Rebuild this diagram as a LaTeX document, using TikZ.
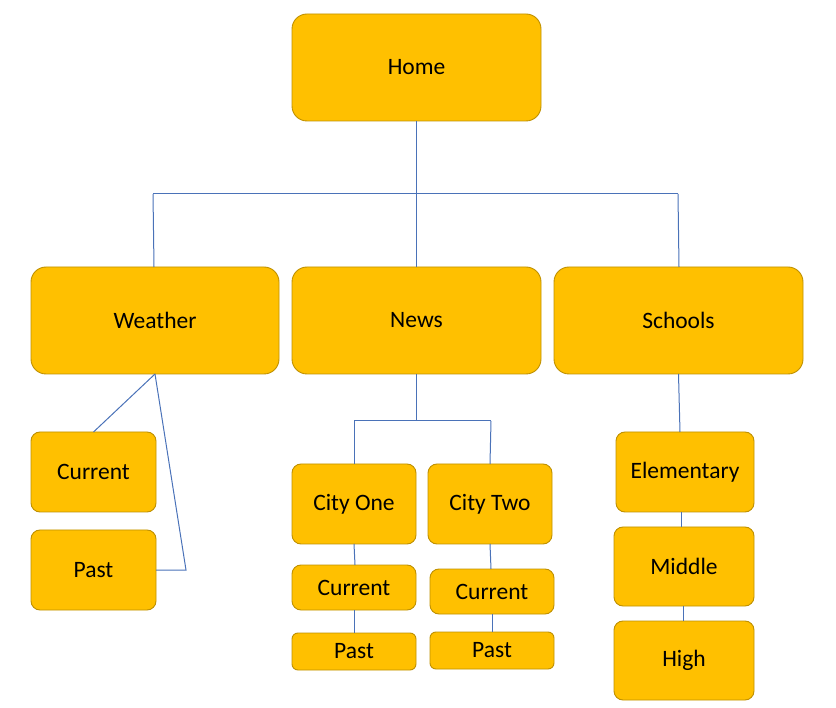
\documentclass[tikz,border=0pt]{standalone}
\usepackage{fontspec}
\setmainfont{Carlito}
\definecolor{boxfill}{HTML}{FFC000}
\definecolor{boxline}{HTML}{BF9000}
\definecolor{conn}{HTML}{4A72B8}
\begin{document}
\begin{tikzpicture}[x=1pt,y=-1pt,
  box/.style={draw=boxline, fill=boxfill, line width=0.9pt, rounded corners=15pt,
    inner sep=0pt, outer sep=0pt, font=\fontsize{23.5}{28}\selectfont, text=black},
  sbox/.style={box, rounded corners=9pt},
  link/.style={draw=conn, line width=1pt}]
\useasboundingbox (0,0) rectangle (836,708);
% level 0
\node[box, minimum width=249pt, minimum height=107pt] (home) at (416.5,67.5) {Home};
% level 1
\node[box, minimum width=248pt, minimum height=107pt] (weather) at (155,320.5) {Weather};
\node[box, minimum width=249pt, minimum height=107pt] (news) at (416.5,320.5) {News};
\node[box, minimum width=249pt, minimum height=107pt] (schools) at (678.5,320.5) {Schools};
% weather children
\node[sbox, minimum width=125pt, minimum height=80pt] (wcur) at (93.5,472) {Current};
\node[sbox, minimum width=125pt, minimum height=80pt] (wpast) at (93.5,570) {Past};
% news children
\node[sbox, minimum width=124pt, minimum height=80pt] (cone) at (354,504) {City One};
\node[sbox, minimum width=124pt, minimum height=80pt] (ctwo) at (490,504) {City Two};
\node[sbox, minimum width=124pt, minimum height=45pt] (conecur) at (354,587.5) {Current};
\node[sbox, minimum width=124pt, minimum height=45pt] (ctwocur) at (492,591.5) {Current};
\node[sbox, rounded corners=6pt, minimum width=124pt, minimum height=37pt] (conepast) at (354,651.5) {Past};
\node[sbox, rounded corners=6pt, minimum width=124pt, minimum height=37pt] (ctwopast) at (492,650.5) {Past};
% schools children
\node[sbox, minimum width=138pt, minimum height=80pt] (elem) at (685,472) {Elementary};
\node[sbox, minimum width=140pt, minimum height=79pt] (middle) at (684,566.5) {Middle};
\node[sbox, minimum width=140pt, minimum height=79pt] (high) at (684,660.5) {High};
% bus coordinates
\coordinate (busc) at (416.5,194);
\coordinate (busl) at (153,194);
\coordinate (busr) at (678,194);
\coordinate (nbusc) at (416.5,421);
\coordinate (nbusl) at (354,421);
\coordinate (nbusr) at (491,421);
\coordinate (wbend) at (186,570);
% connectors
\draw[link] (home.south) -- (busc);
\draw[link] (busl) -- (busr);
\draw[link] (busl) -- ([xshift=-1pt]weather.north);
\draw[link] (busc) -- (news.north);
\draw[link] (busr) -- ([xshift=0.5pt]schools.north);
\draw[link] (weather.south) -- (wcur.north);
\draw[link] (weather.south) -- (wbend) -- (wpast.east);
\draw[link] (news.south) -- (nbusc);
\draw[link] (nbusl) -- (nbusr);
\draw[link] (nbusl) -- (cone.north);
\draw[link] (nbusr) -- (ctwo.north);
\draw[link] (cone.south) -- ([xshift=1pt]conecur.north);
\draw[link] (conecur.south) -- (conepast.north);
\draw[link] (ctwo.south) -- ([xshift=-1pt]ctwocur.north);
\draw[link] (ctwocur.south) -- (ctwopast.north);
\draw[link] (schools.south) -- ([xshift=-5pt]elem.north);
\draw[link] ([xshift=-4pt]elem.south) -- ([xshift=-3pt]middle.north);
\draw[link] ([xshift=-1pt]middle.south) -- ([xshift=-1pt]high.north);
\end{tikzpicture}
\end{document}
